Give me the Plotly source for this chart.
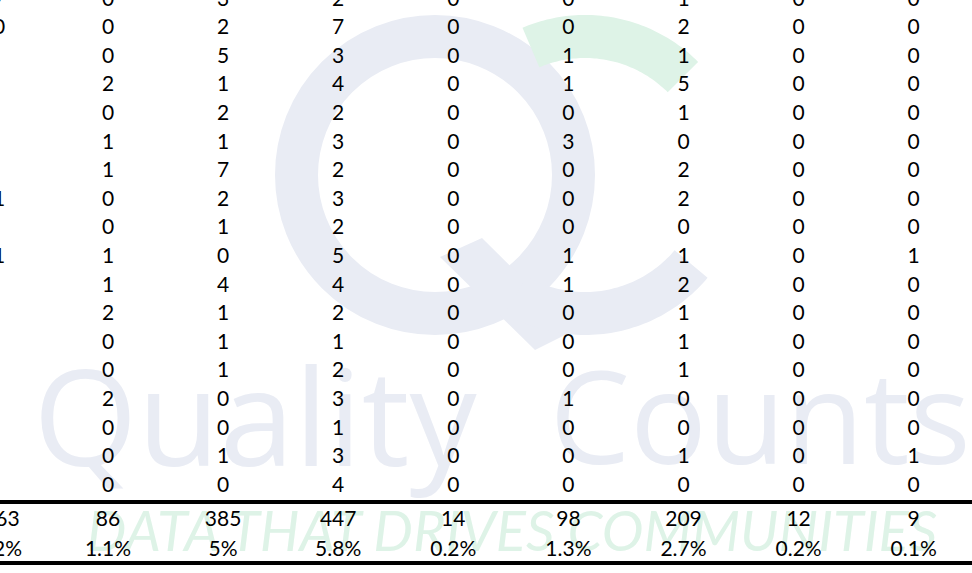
import numpy as np
import plotly.graph_objects as go

# ---------------- data ----------------
lead = ["17", "10", "4", "6", "3", "5", "8", "11", "2", "11", "7", "5", "3", "4", "6", "2", "3", "4"]
c1 = [0, 0, 0, 2, 0, 1, 1, 0, 0, 1, 1, 2, 0, 0, 2, 0, 0, 0]
c2 = [3, 2, 5, 1, 2, 1, 7, 2, 1, 0, 4, 1, 1, 1, 0, 0, 1, 0]
c3 = [2, 7, 3, 4, 2, 3, 2, 3, 2, 5, 4, 2, 1, 2, 3, 1, 3, 4]
c4 = [0, 0, 0, 0, 0, 0, 0, 0, 0, 0, 0, 0, 0, 0, 0, 0, 0, 0]
c5 = [0, 0, 1, 1, 0, 3, 0, 0, 0, 1, 1, 0, 0, 0, 1, 0, 0, 0]
c6 = [1, 2, 1, 5, 1, 0, 2, 2, 0, 1, 2, 1, 1, 1, 0, 0, 1, 0]
c7 = [0, 0, 0, 0, 0, 0, 0, 0, 0, 0, 0, 0, 0, 0, 0, 0, 0, 0]
c8 = [0, 0, 0, 0, 0, 0, 0, 0, 0, 1, 0, 0, 0, 0, 0, 0, 1, 0]
totals = ["7,063", "86", "385", "447", "14", "98", "209", "12", "9"]
percents = ["91.2%", "1.1%", "5%", "5.8%", "0.2%", "1.3%", "2.7%", "0.2%", "0.1%"]

columns = [lead, c1, c2, c3, c4, c5, c6, c7, c8]

# ---------------- layout helpers ----------------
W, H = 972, 573
COL0_PX, COL_STEP = 108.0, 115.1      # pixel centre of column 1, column pitch
ROW0_PX, ROW_STEP = -2.6, 28.6        # pixel centre of row 0, row pitch
TEXT_DY = 3.0 / ROW_STEP              # compensate text baseline centring

def xi(px):
    return 1 + (px - COL0_PX) / COL_STEP

def yi(px):
    return (px - ROW0_PX) / ROW_STEP

TOTAL_ROW = yi(518)
PCT_ROW = yi(548)
LINE_TOP = yi(502)
LINE_BOT = yi(563)

xs, ys, ts = [], [], []
for j, col in enumerate(columns):
    for i, v in enumerate(col):
        xs.append(j)
        ys.append(i + TEXT_DY)
        ts.append(str(v))
    xs.append(j); ys.append(TOTAL_ROW + TEXT_DY); ts.append(totals[j])
    xs.append(j); ys.append(PCT_ROW + TEXT_DY); ts.append(percents[j])

GRAY = "rgb(233,236,244)"
GREEN = "rgb(222,243,231)"

fig = go.Figure()

# watermark text (base pixel axes)
fig.add_trace(go.Scatter(
    x=[255], y=[432], mode="text", text=["Quality"],
    textfont=dict(family="Open Sans", size=134, color=GRAY),
    hoverinfo="skip", xaxis="x", yaxis="y", cliponaxis=True))
fig.add_trace(go.Scatter(
    x=[760], y=[432], mode="text", text=["Counts"],
    textfont=dict(family="Open Sans", size=128, color=GRAY),
    hoverinfo="skip", xaxis="x", yaxis="y", cliponaxis=True))
fig.add_trace(go.Scatter(
    x=[512], y=[537], mode="text", text=["DATA THAT DRIVES COMMUNITIES"],
    textfont=dict(family="Lato", size=56, color=GREEN, style="italic"),
    hoverinfo="skip", xaxis="x", yaxis="y", cliponaxis=True))

# table values (overlay index axes)
fig.add_trace(go.Scatter(
    x=xs, y=ys, mode="text", text=ts, textposition="middle center",
    textfont=dict(family="Lato", size=21, color="black"),
    hoverinfo="skip", xaxis="x2", yaxis="y2", cliponaxis=True))

# ---------------- watermark logo shapes ----------------
def arc_path(cx, cy, r_in, r_out, a0, a1, n=60):
    a = np.radians(np.linspace(a0, a1, n))
    ox = cx + r_out * np.cos(a); oy = cy - r_out * np.sin(a)
    ix = cx + r_in * np.cos(a[::-1]); iy = cy - r_in * np.sin(a[::-1])
    pts = list(zip(np.concatenate([ox, ix]), np.concatenate([oy, iy])))
    return "M " + " L ".join(f"{x:.1f},{y:.1f}" for x, y in pts) + " Z"

shapes = [
    dict(type="circle", xref="x", yref="y", x0=435 - 138.5, x1=435 + 138.5,
         y0=175 - 138.5, y1=175 + 138.5, line=dict(color=GRAY, width=43),
         fillcolor="rgba(0,0,0,0)", layer="below"),
    dict(type="path", xref="x", yref="y",
         path="M 440,257 L 482,238 L 575,330 L 535,350 Z",
         fillcolor=GRAY, line=dict(width=0), layer="below"),
    dict(type="path", xref="x", yref="y", path=arc_path(585, 175, 117, 160, 45, 113),
         fillcolor=GREEN, line=dict(width=0), layer="below"),
    dict(type="path", xref="x", yref="y", path=arc_path(585, 175, 117, 160, -120, -40),
         fillcolor=GRAY, line=dict(width=0), layer="below"),
    # rule lines
    dict(type="line", xref="paper", yref="y2", x0=0, x1=1, y0=LINE_TOP, y1=LINE_TOP,
         line=dict(color="black", width=4), layer="above"),
    dict(type="line", xref="paper", yref="y2", x0=0, x1=1, y0=LINE_BOT, y1=LINE_BOT,
         line=dict(color="black", width=4), layer="above"),
]

hidden = dict(visible=False, showgrid=False, zeroline=False, fixedrange=True)
fig.update_layout(
    width=W, height=H, margin=dict(l=0, r=0, t=0, b=0),
    paper_bgcolor="white", plot_bgcolor="white", showlegend=False,
    xaxis=dict(range=[0, W], **hidden),
    yaxis=dict(range=[H, 0], **hidden),
    xaxis2=dict(range=[xi(0), xi(W)], overlaying="x", anchor="y2", **hidden),
    yaxis2=dict(range=[yi(H), yi(0)], overlaying="y", anchor="x2", **hidden),
    shapes=shapes,
)

fig.write_html("out.html", config={"displayModeBar": False},
               post_script="document.body.style.margin='0px';document.body.style.overflow='hidden';")
